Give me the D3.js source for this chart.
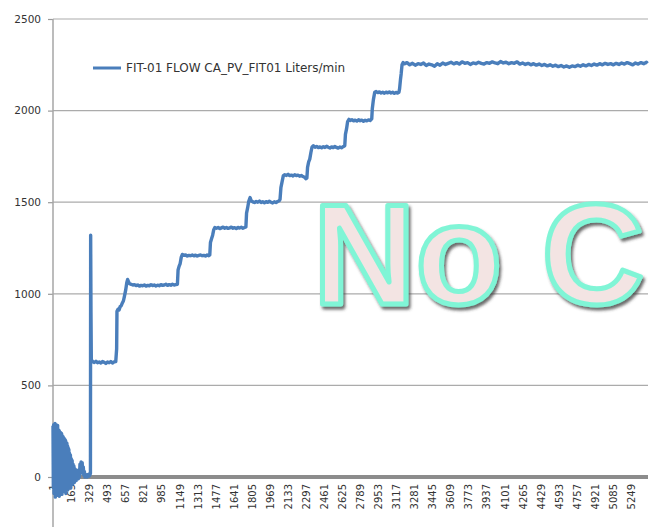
<!DOCTYPE html>
<html>
<head>
<meta charset="utf-8">
<script src="https://cdn.jsdelivr.net/npm/d3@7"></script>
<style>
  html, body { margin: 0; padding: 0; background: #fff; }
  svg { display: block; }
</style>
</head>
<body>
<flow-chart></flow-chart>
<script>
// Values
const yTicks = [0, 500, 1000, 1500, 2000, 2500];
const xTickLabels = [1, 165, 329, 493, 657, 821, 985, 1149, 1313, 1477, 1641, 1805, 1969, 2133,
    2297, 2461, 2625, 2789, 2953, 3117, 3281, 3445, 3609, 3773, 3937, 4101, 4265, 4429, 4593,
    4757, 4921, 5085, 5249];
const sampleCount = 5404;
const seriesName = "FIT-01 FLOW CA_PV_FIT01 Liters/min";
const watermarkText = "No C";

// [sample #, liters/min] - noisy start-up
const startupSamples = [
    [0,280],[3,-60],[6,285],[9,-90],[12,270],[15,-20],[18,292],[21,-110],[24,265],[27,30],
    [30,285],[33,-80],[36,270],[39,-40],[42,282],[45,-100],[48,250],[51,-60],[54,255],[57,-105],
    [60,248],[63,10],[66,245],[69,-70],[72,240],[75,-30],[78,238],[81,-95],[84,225],[87,-50],
    [90,222],[93,-80],[96,215],[99,20],[102,210],[105,-60],[108,205],[111,-20],[114,200],[117,-90],
    [120,188],[123,0],[126,185],[129,-40],[132,170],[135,-70],[138,160],[141,-10],[144,150],[147,-50],
    [150,130],[154,-20],[158,120],[162,-60],[166,100],[170,0],[174,90],[178,-40],[182,70],[186,-10],
    [190,60],[194,-30],[198,45],[202,0],[206,40],[210,-20],[215,25],[220,0],[225,20],[230,-10],
    [235,40],[240,0],[245,70],[250,30],[255,82],[260,50],[265,78],[270,20],[275,55],[280,10],
    [285,30],[290,0],[295,15],[300,5],[305,10],[310,0],[315,12],[320,8],[325,15],[330,5],
    [336,12],[340,20]
];

// spike then the stepped ramp
const rampSamples = [
    [342,1320],[345,900],[348,640],[360,630],[375,625],[390,632],[405,624],[420,628],[435,622],
    [450,630],[465,626],[480,620],[495,628],[510,624],[525,630],[540,622],[555,628],[570,630],
    [578,700],[581,905],[590,915],[600,912],[610,930],[620,935],[630,950],[640,962],[650,990],
    [660,1020],[670,1060],[678,1078],[686,1065],[695,1055],[710,1052],[725,1048],[740,1050],
    [755,1045],[770,1048],[785,1042],[800,1046],[815,1044],[830,1048],[845,1042],[860,1046],
    [875,1044],[890,1050],[905,1045],[920,1048],[935,1043],[950,1047],[965,1044],[980,1050],
    [995,1046],[1010,1048],[1025,1052],[1040,1046],[1055,1050],[1070,1047],[1085,1052],[1100,1048],
    [1115,1050],[1130,1052],
    [1136,1130],[1145,1150],[1155,1165],[1165,1200],[1175,1215],[1190,1210],[1205,1212],[1220,1206],
    [1235,1210],[1250,1208],[1265,1212],[1280,1207],[1295,1211],[1310,1206],[1325,1210],[1340,1212],
    [1355,1208],[1370,1210],[1385,1206],[1400,1212],[1415,1208],[1424,1212],
    [1430,1280],[1440,1300],[1450,1320],[1460,1350],[1470,1362],[1485,1358],[1500,1362],[1515,1356],
    [1530,1360],[1545,1364],[1560,1358],[1575,1362],[1590,1357],[1605,1360],[1620,1364],[1635,1358],
    [1650,1361],[1665,1356],[1680,1362],[1695,1359],[1710,1363],[1725,1358],[1740,1362],[1752,1365],
    [1758,1440],[1768,1470],[1778,1505],[1790,1525],[1800,1508],[1815,1502],[1830,1498],[1845,1504],
    [1860,1500],[1875,1506],[1890,1498],[1905,1502],[1920,1497],[1935,1503],[1950,1499],[1965,1505],
    [1980,1500],[1995,1496],[2010,1502],[2025,1498],[2040,1504],[2055,1508],[2062,1515],
    [2070,1580],[2080,1610],[2092,1645],[2105,1650],[2120,1646],[2135,1652],[2150,1645],[2165,1648],
    [2180,1643],[2195,1650],[2210,1645],[2225,1648],[2240,1642],[2255,1646],[2270,1640],[2285,1636],
    [2298,1628],[2306,1632],
    [2312,1690],[2322,1720],[2332,1735],[2342,1770],[2352,1800],[2365,1808],[2380,1800],[2395,1804],
    [2410,1798],[2425,1802],[2440,1797],[2455,1803],[2470,1799],[2485,1805],[2500,1800],[2515,1796],
    [2530,1802],[2545,1798],[2560,1804],[2575,1799],[2590,1795],[2605,1801],[2620,1797],[2635,1803],
    [2650,1808],
    [2656,1870],[2666,1900],[2676,1940],[2688,1952],[2700,1946],[2715,1950],[2730,1944],[2745,1948],
    [2760,1943],[2775,1950],[2790,1945],[2805,1948],[2820,1942],[2835,1947],[2850,1944],[2865,1949],
    [2880,1946],[2895,1955],
    [2900,2010],[2910,2060],[2922,2100],[2935,2104],[2950,2098],[2965,2102],[2980,2096],[2995,2100],
    [3010,2095],[3025,2101],[3040,2097],[3055,2102],[3070,2096],[3085,2100],[3100,2094],[3115,2099],
    [3130,2096],[3142,2100],
    [3148,2120],[3156,2170],[3162,2200],[3170,2250],[3180,2262]
];

// final plateau
const plateauSamples = [
    [3190,2255],[3215,2262],[3240,2250],[3265,2258],[3290,2248],[3315,2256],[3340,2252],[3365,2260],
    [3390,2246],[3415,2254],[3440,2250],[3465,2242],[3490,2256],[3515,2248],[3540,2260],[3565,2252],
    [3590,2258],[3615,2264],[3640,2255],[3665,2262],[3690,2254],[3715,2266],[3740,2258],[3765,2262],
    [3790,2252],[3815,2260],[3840,2256],[3865,2264],[3890,2258],[3915,2254],[3940,2262],[3965,2258],
    [3990,2266],[4015,2260],[4040,2256],[4065,2268],[4090,2260],[4115,2264],[4140,2256],[4165,2262],
    [4190,2258],[4215,2266],[4240,2254],[4265,2260],[4290,2252],[4315,2258],[4340,2250],[4365,2256],
    [4390,2248],[4415,2254],[4440,2246],[4465,2252],[4490,2244],[4515,2250],[4540,2242],[4565,2248],
    [4590,2240],[4615,2246],[4640,2238],[4665,2244],[4690,2236],[4715,2244],[4740,2240],[4765,2248],
    [4790,2242],[4815,2250],[4840,2244],[4865,2252],[4890,2246],[4915,2254],[4940,2248],[4965,2256],
    [4990,2250],[5015,2258],[5040,2252],[5065,2256],[5090,2250],[5115,2258],[5140,2252],[5165,2260],
    [5190,2254],[5215,2262],[5240,2256],[5265,2250],[5290,2260],[5315,2254],[5340,2262],[5365,2256],
    [5390,2264],[5400,2258]
];

const FONT = "'DejaVu Sans', Verdana, sans-serif";

/**
 * @name FlowChart
 * @description
 * Line chart of the FIT-01 flow reading
 */
class FlowChart extends HTMLElement {

    constructor() {
        super();
        this.chartProps = {};
    }

    connectedCallback() {
        this.innerHTML = "<svg></svg>";
        this.width = 654;
        this.height = 527;
        this.plot = { left: 53, right: 648, top: 19 };

        this.svgSetup()
            .axisSetup()
            .lineSetup()
            .legendSetup()
            .watermarkSetup();
    }

    svgSetup() {
        this.svg = d3.select(this).select('svg')
            .attr("width", this.width)
            .attr("height", this.height);

        // x: sample number, y: axis runs down to -500 (below the picture)
        this.chartProps.x = d3.scaleLinear().domain([0, sampleCount]).range([this.plot.left, this.plot.right]);
        this.chartProps.y = d3.scaleLinear().domain([-500, 2500]).range([568.6, this.plot.top]);
        return this;
    }

    axisSetup() {
        const x = this.chartProps.x, y = this.chartProps.y;
        const zeroY = y(0);

        // horizontal gridlines
        this.svg.append("g").selectAll("line")
            .data(yTicks.filter(d => d !== 0))
            .join("line")
            .attr("x1", this.plot.left).attr("x2", this.plot.right)
            .attr("y1", d => y(d)).attr("y2", d => y(d))
            .style("stroke", "#ababab")
            .style("stroke-width", 1.2);

        // Y axis
        const yAxis = d3.axisLeft(y).tickValues(yTicks).tickSize(5).tickPadding(7).tickFormat(d3.format("d"));
        const gy = this.svg.append("g")
            .attr("class", "y axis")
            .attr("transform", "translate(" + this.plot.left + ",0)")
            .call(yAxis);
        gy.select(".domain").remove();
        gy.selectAll(".tick line").style("stroke", "#9a9a9a").style("stroke-width", 1.2);
        gy.selectAll("text")
            .style("font-family", FONT)
            .style("font-size", "10.5px")
            .style("fill", "#333");

        this.svg.append("line")
            .attr("x1", this.plot.left).attr("x2", this.plot.left)
            .attr("y1", this.plot.top).attr("y2", this.height)
            .style("stroke", "#a6a6a6")
            .style("stroke-width", 1.5);

        // thick zero line
        this.svg.append("line")
            .attr("x1", this.plot.left).attr("x2", this.plot.right)
            .attr("y1", zeroY).attr("y2", zeroY)
            .style("stroke", "#8c8c8c")
            .style("stroke-width", 4);

        // X axis (category labels, rotated)
        const xAxis = d3.axisBottom(x).tickValues(xTickLabels).tickSize(0).tickFormat(d3.format("d"));
        const gx = this.svg.append("g")
            .attr("class", "x axis")
            .attr("transform", "translate(0," + zeroY + ")")
            .call(xAxis);
        gx.select(".domain").remove();
        gx.selectAll("text")
            .attr("transform", "rotate(-90)")
            .attr("x", -7)
            .attr("y", 0)
            .attr("dy", "0.35em")
            .style("text-anchor", "end")
            .style("font-family", FONT)
            .style("font-size", "10px")
            .style("fill", "#333");

        return this;
    }

    lineSetup() {
        const x = this.chartProps.x, y = this.chartProps.y;
        const data = startupSamples.concat(rampSamples, plateauSamples);

        this.svg.append('path')
            .attr('d', d3.line().x(d => x(d[0])).y(d => y(d[1]))(data))
            .attr('class', 'line')
            .style('stroke-width', 3.4)
            .style('stroke', '#4a7ebb')
            .style('stroke-linejoin', 'round')
            .style('fill', 'none');
        return this;
    }

    legendSetup() {
        const g = this.svg.append("g").attr("transform", "translate(93,68)");
        g.append("line")
            .attr("x1", 0).attr("x2", 28)
            .style("stroke", "#4a7ebb")
            .style("stroke-width", 3);
        g.append("text")
            .attr("x", 33)
            .attr("dy", "0.35em")
            .style("font-family", FONT)
            .style("font-size", "12px")
            .style("fill", "#333")
            .text(seriesName);
        return this;
    }

    watermarkSetup() {
        const defs = this.svg.append("defs");
        const f = defs.append("filter").attr("id", "wmShadow")
            .attr("x", "-10%").attr("y", "-10%").attr("width", "120%").attr("height", "130%");
        f.append("feDropShadow")
            .attr("dx", 2).attr("dy", 3)
            .attr("stdDeviation", 1.6)
            .attr("flood-color", "#3a3a3a")
            .attr("flood-opacity", 0.75);

        this.svg.append("text")
            .attr("x", 313)
            .attr("y", 304)
            .attr("filter", "url(#wmShadow)")
            .style("font-family", "'Liberation Sans', Arial, sans-serif")
            .style("font-weight", "bold")
            .style("font-size", "142px")
            .style("fill", "#f3e4e3")
            .style("stroke", "#80f5d6")
            .style("stroke-width", 5)
            .style("stroke-linejoin", "round")
            .text(watermarkText);
        return this;
    }
}

customElements.define('flow-chart', FlowChart);
</script>
</body>
</html>
